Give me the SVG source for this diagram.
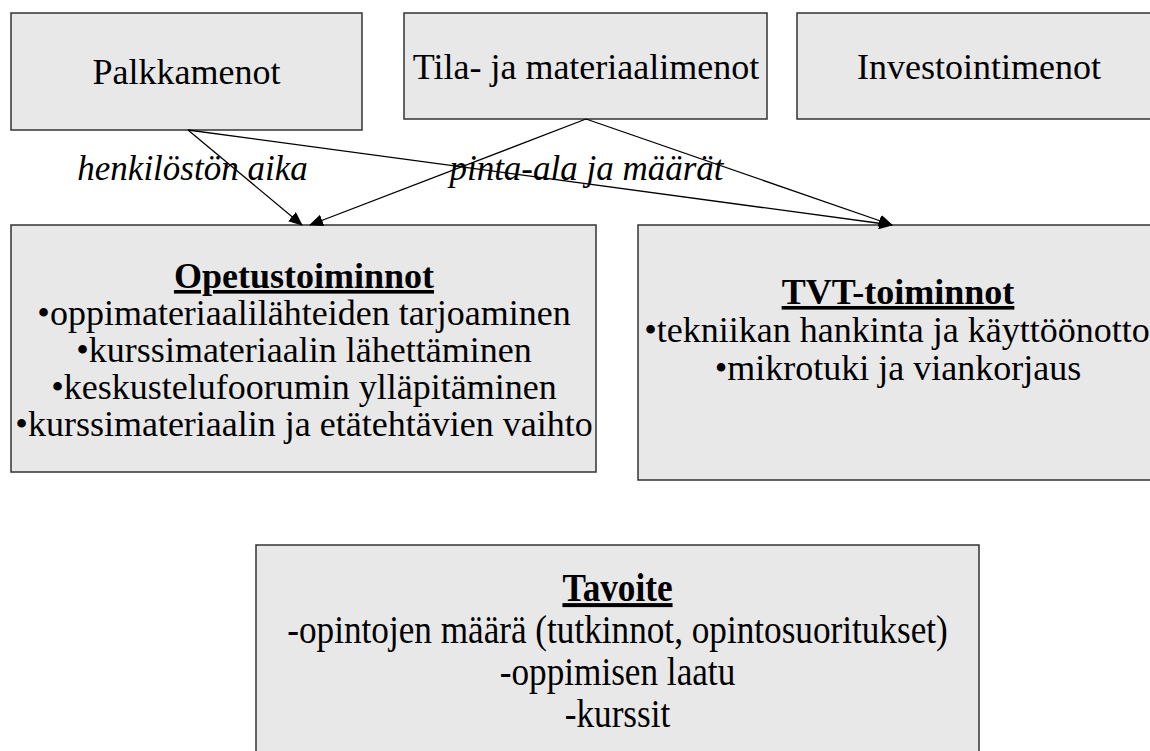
<svg xmlns="http://www.w3.org/2000/svg" width="1150" height="751" viewBox="0 0 1150 751">
<style>
.box{fill:#e8e8e8;stroke:#333;stroke-width:1.5}
text{font-family:"Liberation Serif","Times New Roman",serif;font-size:36px;fill:#000;text-anchor:middle}
.t{font-weight:bold;text-decoration:underline}
.lbl{font-style:italic;font-size:35px}
.tall{font-size:40px}
.con{stroke:#000;stroke-width:1.3;fill:none;marker-end:url(#ah)}
</style>
<defs>
<marker id="ah" viewBox="0 0 14 12" refX="13" refY="6" markerWidth="14" markerHeight="12" markerUnits="userSpaceOnUse" orient="auto">
<path d="M0,0 L14,6 L0,12 z" fill="#000"/>
</marker>
</defs>
<rect width="1150" height="751" fill="#fff"/>
<g id="palkkamenot">
<rect class="box" x="11" y="13" width="351" height="117"/>
<text x="186.5" y="84">Palkkamenot</text>
</g>
<g id="tila">
<rect class="box" x="404" y="13" width="363" height="106"/>
<text x="586" y="79">Tila- ja materiaalimenot</text>
</g>
<g id="investointi">
<rect class="box" x="797" y="13" width="365" height="106"/>
<text x="979" y="79">Investointimenot</text>
</g>
<g id="opetus">
<rect class="box" x="11" y="225" width="585" height="247"/>
<text class="t" x="304" y="288">Opetustoiminnot</text>
<text x="304" y="325">•oppimateriaalilähteiden tarjoaminen</text>
<text x="304" y="362">•kurssimateriaalin lähettäminen</text>
<text x="304" y="399">•keskustelufoorumin ylläpitäminen</text>
<text x="304" y="436">•kurssimateriaalin ja etätehtävien vaihto</text>
</g>
<g id="tvt">
<rect class="box" x="638" y="225" width="524" height="255"/>
<text class="t" x="898" y="304">TVT-toiminnot</text>
<text x="897" y="342">•tekniikan hankinta ja käyttöönotto</text>
<text x="898" y="380">•mikrotuki ja viankorjaus</text>
</g>
<g id="tavoite">
<rect class="box" x="256" y="545" width="723" height="220"/>
<g transform="translate(617.5,0) scale(0.88,1)">
<text class="t tall" x="0" y="601">Tavoite</text>
<text class="tall" x="0" y="643">-opintojen määrä (tutkinnot, opintosuoritukset)</text>
<text class="tall" x="0" y="685">-oppimisen laatu</text>
<text class="tall" x="0" y="727">-kurssit</text>
</g>
</g>
<g id="connectors">
<line class="con" x1="188" y1="130" x2="302" y2="225"/>
<line class="con" x1="586" y1="119" x2="310" y2="225"/>
<line class="con" x1="188" y1="130" x2="892" y2="225"/>
<line class="con" x1="586" y1="119" x2="892" y2="225"/>
<text class="lbl" x="192.5" y="180">henkilöstön aika</text>
<text class="lbl" x="586.5" y="180">pinta-ala ja määrät</text>
</g>
</svg>
